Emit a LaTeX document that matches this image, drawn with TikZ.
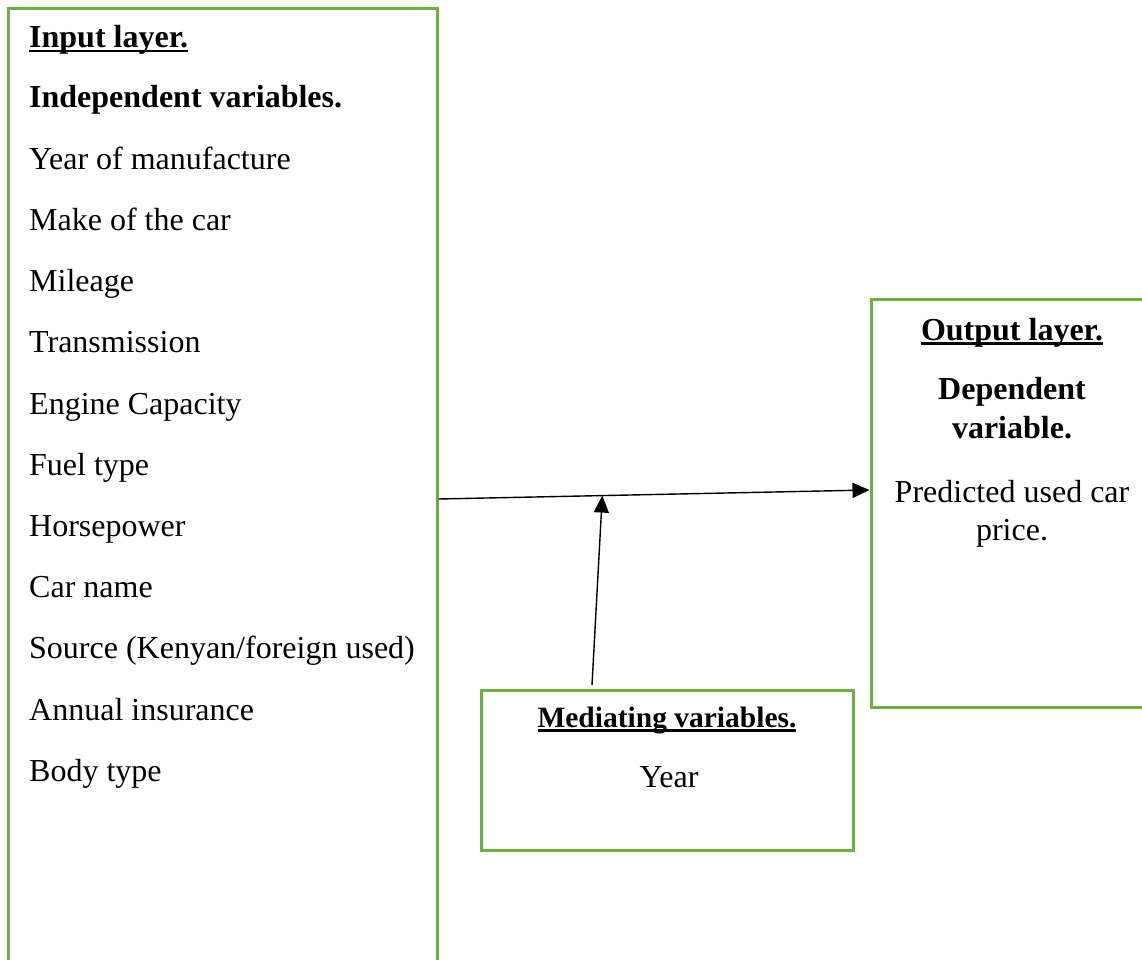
\documentclass[tikz,border=0pt]{standalone}
\usepackage{fontspec}
\setmainfont{Liberation Serif}
\usepackage{tikz}
\usetikzlibrary{calc,arrows.meta}

\definecolor{boxgreen}{HTML}{70AD47}
\newcommand*{\ulhead}[1]{\setbox0\hbox{#1}\rlap{\rule[-4.5pt]{\wd0}{2.8pt}}\box0}

\tikzset{
  layerbox/.style={draw=boxgreen, line width=3pt, inner sep=0pt},
  itemtext/.style={anchor=base west, inner sep=0pt, font=\fontsize{32}{38}\selectfont},
  midtext/.style={anchor=base, inner sep=0pt, font=\fontsize{32}{38}\selectfont},
  medtext/.style={anchor=base, inner sep=0pt, font=\fontsize{29.5}{35}\selectfont},
  flow/.style={line width=1.4pt, -{Triangle[length=17pt,width=15pt]}}
}

\begin{document}
\begin{tikzpicture}[x=1pt, y=-1pt]
  \useasboundingbox (0,0) rectangle (1142,960);
  \clip (0,0) rectangle (1142,960);

  % the three layers
  \node [layerbox, minimum width=429pt, minimum height=980pt] (inbox) at (222.5,499) {};
  \node [layerbox, minimum width=282pt, minimum height=408pt] (outbox) at (1012,503) {};
  \node [layerbox, minimum width=372pt, minimum height=160pt] (medbox) at (667,770.5) {};

  % input layer
  \node [itemtext] (inhead) at (29,48) {\textbf{\ulhead{Input layer.}}};
  \node [itemtext] (indep) at (29,108) {\textbf{Independent variables.}};
  \foreach \feat [count=\i] in {Year of manufacture, Make of the car, Mileage,
      Transmission, Engine Capacity, Fuel type, Horsepower, Car name,
      Source (Kenyan/foreign used), Annual insurance, Body type}
    \node [itemtext] (feat\i) at (29,{108+61.2*\i}) {\feat};

  % output layer
  \node [midtext] (outhead) at (1012,340) {\textbf{\ulhead{Output layer.}}};
  \node [midtext] (dep1) at (1012,399) {\textbf{Dependent}};
  \node [midtext] (dep2) at (1012,438) {\textbf{variable.}};
  \node [midtext] (pred1) at (1012,502) {Predicted used car};
  \node [midtext] (pred2) at (1012,540) {price.};

  % mediating variables
  \node [medtext] (medhead) at (667,727) {\textbf{\ulhead{Mediating variables.}}};
  \node [midtext] (medyear) at (669,787) {Year};

  % connectors
  \draw [flow] (inbox.east) -- coordinate[pos=0.38] (meet) ([yshift=13pt]outbox.west);
  \draw [flow] ($(medbox.north west)!0.3!(medbox.north east)+(0,4pt)$) -- (meet);
\end{tikzpicture}
\end{document}
